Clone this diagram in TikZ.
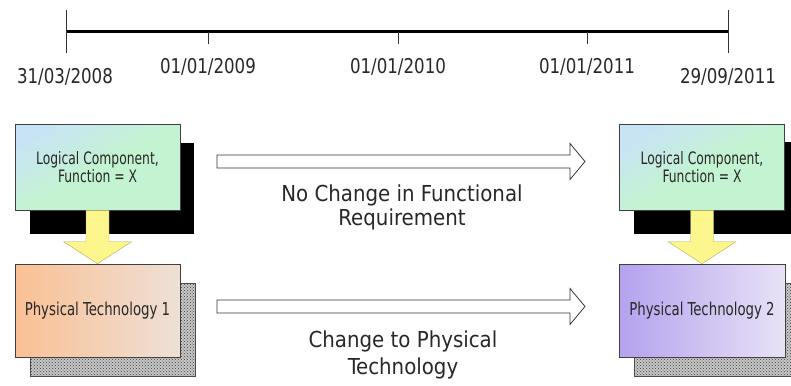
\documentclass[tikz,border=0pt]{standalone}
\usepackage{fontspec}
\setmainfont{DejaVu Sans Condensed}
\usetikzlibrary{patterns,calc}
\definecolor{lgA}{RGB}{200,228,244}
\definecolor{lgB}{RGB}{196,243,210}
\definecolor{ph1A}{RGB}{250,192,148}
\definecolor{ph1B}{RGB}{238,224,214}
\definecolor{ph2A}{RGB}{180,162,238}
\definecolor{ph2B}{RGB}{232,226,246}
\definecolor{ylw}{RGB}{252,246,140}
\definecolor{txt}{RGB}{40,40,40}
\newcommand{\vstr}[2]{\scalebox{1}[#1]{#2}}
\tikzset{
  boxline/.style={draw=black!75, line width=0.6pt},
  logbox/.style={boxline, minimum width=165pt, minimum height=86pt, align=center,
     top color=lgA, bottom color=lgB, middle color=lgB, shading angle=30,
     font=\fontsize{13.7}{18}\selectfont, text=txt},
  phys1/.style={boxline, minimum width=165pt, minimum height=93pt,
     left color=ph1A, right color=ph1B, font=\fontsize{14.8}{18}\selectfont, text=txt},
  phys2/.style={boxline, minimum width=166pt, minimum height=93pt,
     left color=ph2A, right color=ph2B, font=\fontsize{14.8}{18}\selectfont, text=txt},
  blackshadow/.style={fill=black},
  dotfill/.style={fill=gray!45},
  dotshadow/.style={pattern=crosshatch dots, pattern color=black!75},
  dotedge/.style={draw=black!70, line width=0.6pt},
  yarrow/.style={fill=ylw, draw=ylw!70!black, line width=0.4pt},
  harrow/.style={fill=white, draw=black!80, line width=0.8pt},
  datelbl/.style={font=\fontsize{18.5}{20}\selectfont, text=txt},
  arrlbl/.style={font=\fontsize{22}{24}\selectfont, text=txt, align=center},
  tick/.style={line width=1pt, draw=black!80}
}
\begin{document}
\begin{tikzpicture}[x=1pt,y=-1pt]
\useasboundingbox[fill=white] (0,0) rectangle (791,385);

% timeline
\coordinate (t0) at (66,32);
\coordinate (t1) at (728,32);
\coordinate (k1) at (208,32);
\coordinate (k2) at (398,32);
\coordinate (k3) at (587,32);
\draw[line width=3pt] (t0) -- (t1);
\draw[tick] ($(t0)+(0,-22)$) -- ($(t0)+(0,21)$);
\draw[tick] ($(t1)+(0,-22)$) -- ($(t1)+(0,21)$);
\foreach \k in {k1,k2,k3} \draw[tick] (\k) -- ($(\k)+(0,12)$);
\node[datelbl] (d0) at (65,77) {\vstr{1.1}{31/03/2008}};
\node[datelbl] (d1) at (208,67) {\vstr{1.1}{01/01/2009}};
\node[datelbl] (d2) at (398,67) {\vstr{1.1}{01/01/2010}};
\node[datelbl] (d3) at (587,67) {\vstr{1.1}{01/01/2011}};
\node[datelbl] (d4) at (728,77) {\vstr{1.1}{29/09/2011}};

% shadows
\fill[blackshadow] (30,143) rectangle (194,234);
\fill[blackshadow] (634,142) rectangle (800,234);
\fill[dotfill] (30,283) rectangle (195,376);
\fill[dotfill] (634,283) rectangle (800,376);
\path[dotshadow] (30,283) rectangle (195,376);
\path[dotshadow] (634,283) rectangle (800,376);
\draw[dotedge] (30,283) rectangle (195,376);
\draw[dotedge] (634,283) rectangle (800,376);

% boxes
\node[logbox] (l1) at (97.5,167) {\vstr{1.25}{Logical Component,}\\\vstr{1.25}{Function = X}};
\node[logbox] (l2) at (702,167) {\vstr{1.25}{Logical Component,}\\\vstr{1.25}{Function = X}};
\node[phys1] (p1) at (97.5,310.5) {\vstr{1.2}{Physical Technology 1}};
\node[phys2] (p2) at (702,310.5) {\vstr{1.2}{Physical Technology 2}};

% yellow arrows
\foreach \a/\b in {l1/p1,l2/p2}{
\draw[yarrow] let \p1=(\a.south), \p2=(\b.north) in
  (\x1-11.5pt,\y1) -- (\x1+11.5pt,\y1) -- (\x1+11.5pt,\y2+22pt) -- (\x1+34pt,\y2+22pt)
  -- (\x2,\y2) -- (\x1-34pt,\y2+22pt) -- (\x1-11.5pt,\y2+22pt) -- cycle;
}

% hollow arrows
\coordinate (h1s) at (217,161.5);
\coordinate (h1e) at (585,161.5);
\coordinate (h2s) at (217,306.5);
\coordinate (h2e) at (585,306.5);
\foreach \s/\e in {h1s/h1e,h2s/h2e}{
\draw[harrow] let \p1=(\s), \p2=(\e) in
  (\x1,\y1+6.5pt) -- (\x2-15pt,\y1+6.5pt) -- (\x2-15pt,\y1+18pt) -- (\x2,\y2)
  -- (\x2-15pt,\y1-18pt) -- (\x2-15pt,\y1-6.5pt) -- (\x1,\y1-6.5pt) -- cycle;
}
\node[arrlbl] (n1) at (402,207) {No Change in Functional\\Requirement};
\node[arrlbl, font=\fontsize{22}{27}\selectfont] (n2) at (403,355) {Change to Physical\\Technology};
\end{tikzpicture}
\end{document}
